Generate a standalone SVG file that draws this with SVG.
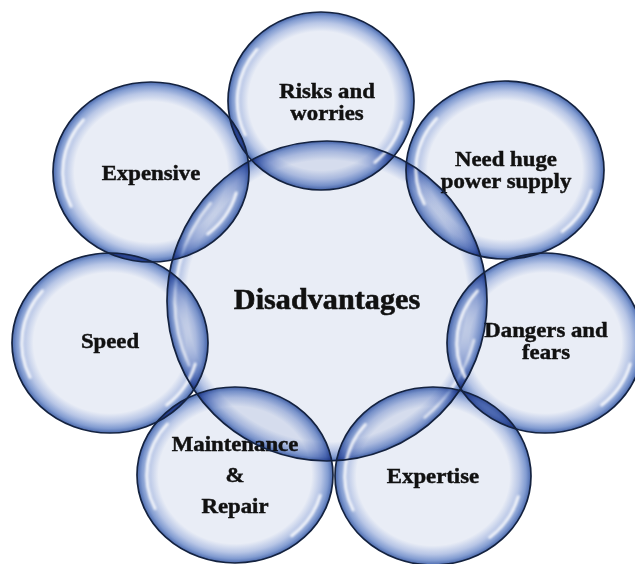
<svg xmlns="http://www.w3.org/2000/svg" xmlns:xlink="http://www.w3.org/1999/xlink" width="635" height="564" viewBox="0 0 635 564">
  <defs>
    <style>
      .bubble { fill: url(#glass); mix-blend-mode: multiply; }
      .bubble-lg { fill: url(#glass-lg); mix-blend-mode: multiply; }
      .outline { fill: none; stroke: #14223f; stroke-width: 1.7; }
      .hl { fill: none; stroke: #ffffff; stroke-width: 3; stroke-linecap: round; opacity: 0.85; filter: url(#soft); }
      .lbl { font-family: "Liberation Serif", "Times New Roman", serif; font-weight: bold; fill: #111111; stroke: #111111; stroke-width: 0.45; text-anchor: middle; font-size: 21.5px; }
      .big { font-size: 28.5px; stroke-width: 0.55; }
    </style>
    <!-- glass fill: pale core, blue rim; multiplied so overlaps deepen -->
    <radialGradient id="glass" cx="0.5" cy="0.5" r="0.5">
      <stop offset="0" stop-color="#e9edf6"/>
      <stop offset="0.78" stop-color="#e9edf6"/>
      <stop offset="0.88" stop-color="#b8c6e6"/>
      <stop offset="0.95" stop-color="#829cd1"/>
      <stop offset="1" stop-color="#4a69ad"/>
    </radialGradient>
    <radialGradient id="glass-lg" cx="0.5" cy="0.5" r="0.5">
      <stop offset="0" stop-color="#e9edf6"/>
      <stop offset="0.88" stop-color="#e9edf6"/>
      <stop offset="0.935" stop-color="#b8c6e6"/>
      <stop offset="0.975" stop-color="#829cd1"/>
      <stop offset="1" stop-color="#4a69ad"/>
    </radialGradient>
    <filter id="soft" x="-20%" y="-20%" width="140%" height="140%">
      <feGaussianBlur stdDeviation="1"/>
    </filter>
    <ellipse id="shape-center" cx="327" cy="301" rx="160" ry="160"/>
    <ellipse id="shape-risks" cx="321" cy="101" rx="93" ry="89"/>
    <ellipse id="shape-power" cx="505" cy="170" rx="99" ry="89"/>
    <ellipse id="shape-dangers" cx="545" cy="343" rx="98" ry="90"/>
    <ellipse id="shape-expertise" cx="433" cy="476" rx="98" ry="89"/>
    <ellipse id="shape-maint" cx="235" cy="475" rx="98" ry="88"/>
    <ellipse id="shape-speed" cx="110" cy="343" rx="98" ry="90"/>
    <ellipse id="shape-expensive" cx="151" cy="172" rx="98" ry="90"/>
  </defs>

  <rect width="635" height="564" fill="#ffffff"/>

  <g id="node-center">
    <use xlink:href="#shape-center" class="bubble-lg"/>
    <path class="hl" d="M189.2 365.2 A152 152 0 0 1 210.6 203.3"/>
    <path class="hl" d="M473.8 340.3 A152 152 0 0 1 424.7 417.4"/>
    <text class="lbl big" transform="translate(327 309) scale(1.06 1)">Disadvantages</text>
  </g>

  <g id="node-risks">
    <use xlink:href="#shape-risks" class="bubble"/>
    <path class="hl" d="M245.2 134.9 A83.7 80.1 0 0 1 256.9 49.5"/>
    <path class="hl" d="M401.8 121.7 A83.7 80.1 0 0 1 374.8 162.4"/>
    <text class="lbl" transform="translate(327 98) scale(1.06 1)"><tspan x="0" y="0">Risks and</tspan><tspan x="0" y="22">worries</tspan></text>
  </g>

  <g id="node-power">
    <use xlink:href="#shape-power" class="bubble"/>
    <path class="hl" d="M424.3 203.9 A89.1 80.1 0 0 1 436.7 118.5"/>
    <path class="hl" d="M591.1 190.7 A89.1 80.1 0 0 1 562.3 231.4"/>
    <text class="lbl" transform="translate(506 166) scale(1.06 1)"><tspan x="0" y="0">Need huge</tspan><tspan x="0" y="22">power supply</tspan></text>
  </g>

  <g id="node-dangers">
    <use xlink:href="#shape-dangers" class="bubble"/>
    <path class="hl" d="M465.1 377.3 A88.2 81 0 0 1 477.4 290.9"/>
    <path class="hl" d="M630.2 364 A88.2 81 0 0 1 601.7 405"/>
    <text class="lbl" transform="translate(546 337) scale(1.06 1)"><tspan x="0" y="0">Dangers and</tspan><tspan x="0" y="22">fears</tspan></text>
  </g>

  <g id="node-expertise">
    <use xlink:href="#shape-expertise" class="bubble"/>
    <path class="hl" d="M353.1 509.9 A88.2 80.1 0 0 1 365.4 424.5"/>
    <path class="hl" d="M518.2 496.7 A88.2 80.1 0 0 1 489.7 537.4"/>
    <text class="lbl" transform="translate(433 483) scale(1.06 1)">Expertise</text>
  </g>

  <g id="node-maint">
    <use xlink:href="#shape-maint" class="bubble"/>
    <path class="hl" d="M155.1 508.5 A88.2 79.2 0 0 1 167.4 424.1"/>
    <path class="hl" d="M320.2 495.5 A88.2 79.2 0 0 1 291.7 535.7"/>
    <text class="lbl" transform="translate(235 451) scale(1.06 1)"><tspan x="0" y="0">Maintenance</tspan><tspan x="0" y="31">&amp;</tspan><tspan x="0" y="62">Repair</tspan></text>
  </g>

  <g id="node-speed">
    <use xlink:href="#shape-speed" class="bubble"/>
    <path class="hl" d="M30.1 377.3 A88.2 81 0 0 1 42.4 290.9"/>
    <path class="hl" d="M195.2 364 A88.2 81 0 0 1 166.7 405"/>
    <text class="lbl" transform="translate(110 348) scale(1.06 1)">Speed</text>
  </g>

  <g id="node-expensive">
    <use xlink:href="#shape-expensive" class="bubble"/>
    <path class="hl" d="M71.1 206.3 A88.2 81 0 0 1 83.4 119.9"/>
    <path class="hl" d="M236.2 193 A88.2 81 0 0 1 207.7 234"/>
    <text class="lbl" transform="translate(151 180) scale(1.06 1)">Expensive</text>
  </g>

  <!-- bubble rims drawn last so every crossing arc stays crisp -->
  <g id="outlines">
    <use xlink:href="#shape-center" class="outline"/>
    <use xlink:href="#shape-risks" class="outline"/>
    <use xlink:href="#shape-power" class="outline"/>
    <use xlink:href="#shape-dangers" class="outline"/>
    <use xlink:href="#shape-expertise" class="outline"/>
    <use xlink:href="#shape-maint" class="outline"/>
    <use xlink:href="#shape-speed" class="outline"/>
    <use xlink:href="#shape-expensive" class="outline"/>
  </g>
</svg>
